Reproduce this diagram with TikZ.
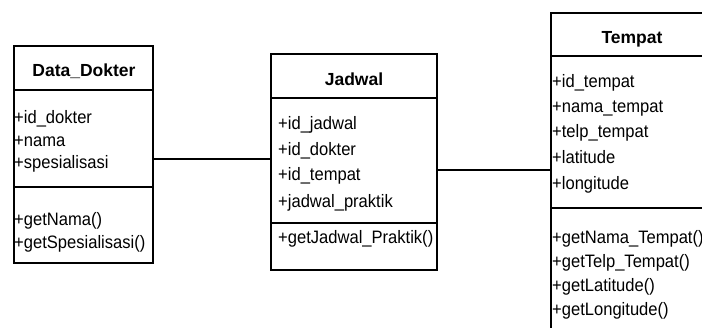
\documentclass[tikz,border=0pt]{standalone}
\usepackage{fontspec}
\setmainfont{Liberation Sans}[FakeStretch=0.92]
\newfontfamily\titlefont{Liberation Sans}
\begin{document}
\begin{tikzpicture}[x=1pt,y=-1pt,
  box/.style={draw=black,line width=1.6pt,rectangle,minimum width=#1,inner sep=0pt,anchor=north west},
  sep/.style={draw=black,line width=1.6pt},
  conn/.style={draw=black,line width=1.6pt},
  ttl/.style={font=\titlefont\bfseries\fontsize{17.5}{20}\selectfont,anchor=base,inner sep=0pt},
  itm/.style={font=\fontsize{18}{21}\selectfont,anchor=base west,inner sep=0pt}]
\useasboundingbox (0,0) rectangle (702,327);
\clip (0,0) rectangle (702,327);
\fill[white] (0,0) rectangle (702,327);
% Data_Dokter
\node[box=139pt,minimum height=217pt] (dd) at (13,45) {};
\draw[sep] (13,90) -- (152,90);
\draw[sep] (13,187) -- (152,187);
\node[ttl] (ddt) at (84,76) {Data\_Dokter};
\node[itm] (dd1) at (14,123) {+id\_dokter};
\node[itm] (dd2) at (14,146) {+nama};
\node[itm] (dd3) at (14,168) {+spesialisasi};
\node[itm] (dd4) at (14,225) {+getNama()};
\node[itm] (dd5) at (14,248) {+getSpesialisasi()};
% Jadwal
\node[box=166pt,minimum height=216pt] (jw) at (270,53) {};
\draw[sep] (270,98) -- (436,98);
\draw[sep] (270,223) -- (436,223);
\node[ttl] (jwt) at (354,85) {Jadwal};
\node[itm] (jw1) at (278,129) {+id\_jadwal};
\node[itm] (jw2) at (278,155) {+id\_dokter};
\node[itm] (jw3) at (278,180) {+id\_tempat};
\node[itm] (jw4) at (278,207) {+jadwal\_praktik};
\node[itm] (jw5) at (278,243) {+getJadwal\_Praktik()};
% Tempat
\node[box=164pt,minimum height=340pt] (tp) at (550,12) {};
\draw[sep] (550,56) -- (714,56);
\draw[sep] (550,208) -- (714,208);
\node[ttl] (tpt) at (632,43) {Tempat};
\node[itm] (tp1) at (552,87) {+id\_tempat};
\node[itm] (tp2) at (552,112) {+nama\_tempat};
\node[itm] (tp3) at (552,137) {+telp\_tempat};
\node[itm] (tp4) at (552,163) {+latitude};
\node[itm] (tp5) at (552,189) {+longitude};
\node[itm] (tp6) at (552,243) {+getNama\_Tempat()};
\node[itm] (tp7) at (552,267) {+getTelp\_Tempat()};
\node[itm] (tp8) at (552,291) {+getLatitude()};
\node[itm] (tp9) at (552,315) {+getLongitude()};
% connectors
\coordinate (y1) at (0,159);
\coordinate (y2) at (0,170);
\draw[conn] (dd.east |- y1) -- (jw.west |- y1);
\draw[conn] (jw.east |- y2) -- (tp.west |- y2);
\end{tikzpicture}
\end{document}
